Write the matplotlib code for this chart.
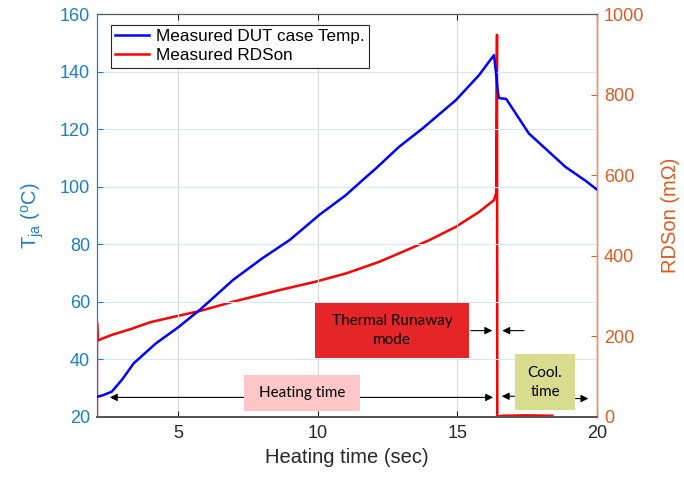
import matplotlib

matplotlib.use("Agg")
import matplotlib.pyplot as plt  # noqa: E402
from matplotlib.patches import Rectangle  # noqa: E402

plt.rcParams["font.family"] = ["Liberation Sans", "DejaVu Sans"]

# measured case temperature (left axis, degC)
temp_x = [2.1, 2.3, 2.63, 3.0, 3.41, 4.2, 5.0, 5.78, 6.97, 8.0, 9.0, 10.07,
          11.0, 11.61, 12.09, 12.92, 13.75, 14.95, 15.78, 16.31, 16.38, 16.45,
          16.49, 16.75, 17.56, 18.87, 19.6, 20.0]
temp_y = [27, 27.5, 28.8, 33, 38.6, 45.5, 51.1, 57.2, 67.6, 75, 81.5, 90.3,
          97, 102.3, 106.4, 113.9, 120.2, 130.1, 138.8, 145.7, 140, 133,
          130.8, 130.5, 118.5, 106.9, 102, 99]

# measured RDSon (right axis, mOhm)
rds_x = [2.1, 2.1, 2.13, 2.6, 3.3, 4.0, 5.0, 5.78, 6.97, 8.64, 9.94, 11.05,
         12.2, 13.05, 14.0, 14.95, 15.78, 16.31, 16.39, 16.42, 16.43, 16.6,
         17.5, 18.4]
rds_y = [0, 235, 190, 203, 218, 235, 251, 263, 286, 315, 336, 357,
         385, 410, 439, 472, 509, 538, 555, 948, 0, 3, 4, 3]

x_ticks = [5, 10, 15, 20]
temp_ticks = [20, 40, 60, 80, 100, 120, 140, 160]
rds_ticks = [0, 200, 400, 600, 800, 1000]

BLUE_AX = "#1a7fc4"
ORANGE_AX = "#dd5a22"
DARK = "#262626"


def arrow(ax, tail, head):
    ax.annotate("", xy=head, xytext=tail, xycoords=ax.transData,
                arrowprops=dict(arrowstyle="-|>", color="black", lw=0.8,
                                mutation_scale=11, shrinkA=0, shrinkB=0))


def label_box(ax, x0, x1, y0, y1, color, text):
    ax.add_patch(Rectangle((x0, y0), x1 - x0, y1 - y0, facecolor=color,
                           edgecolor="none", zorder=5))
    ax.text((x0 + x1) / 2, (y0 + y1) / 2, text, ha="center", va="center",
            fontsize=11, family=["Lato", "DejaVu Sans"], color="black",
            linespacing=1.45, zorder=6)


fig = plt.figure(figsize=(6.84, 4.8), dpi=100)
ax1 = fig.add_axes([0.1418, 0.1313, 0.731, 0.8395])
ax2 = ax1.twinx()
ax1.set_zorder(ax2.get_zorder() + 1)
ax1.patch.set_visible(False)

l1, = ax1.plot(temp_x, temp_y, color="#0000ff", lw=1.8, zorder=3)
l2, = ax2.plot(rds_x, rds_y, color="#ff0000", lw=1.8)

ax1.set_xlim(2.1, 20)
ax1.set_ylim(20, 160)
ax2.set_ylim(0, 1000)
ax1.set_xticks(x_ticks)
ax1.set_yticks(temp_ticks)
ax2.set_yticks(rds_ticks)

ax1.grid(axis="x", color="#dadada", lw=0.8, zorder=0)
ax1.grid(axis="y", color="#d6e8f5", lw=0.8, zorder=0)

ax1.tick_params(axis="x", direction="in", top=True, length=4, width=0.8,
                color=DARK, labelcolor=DARK, labelsize=13, pad=6)
ax1.tick_params(axis="y", direction="in", length=4, width=0.8,
                color=BLUE_AX, labelcolor=BLUE_AX, labelsize=13, pad=5)
ax2.tick_params(axis="y", direction="in", length=4, width=0.8,
                color=ORANGE_AX, labelcolor=ORANGE_AX, labelsize=13, pad=5)

for ax in (ax1, ax2):
    ax.spines["top"].set_color("#555555")
    ax.spines["top"].set_linewidth(0.8)
    ax.spines["bottom"].set_color("#555555")
    ax.spines["bottom"].set_linewidth(1.3)
    ax.spines["left"].set_color(BLUE_AX)
    ax.spines["left"].set_linewidth(0.8)
    ax.spines["right"].set_color("#eb8d68")
    ax.spines["right"].set_linewidth(1.0)

ax1.set_xlabel("Heating time (sec)", fontsize=14.5, color=DARK, labelpad=4)
ax1.set_ylabel(r"T$_{\mathregular{ja}}$ ($^{\mathregular{o}}$C)", fontsize=14.5,
               color=BLUE_AX, labelpad=10)
ax2.set_ylabel("RDSon (m\u03a9)", fontsize=14.5, color=ORANGE_AX, labelpad=12)

# annotation boxes and arrows
label_box(ax1, 9.92, 15.42, 40.6, 59.5, "#e52528", "Thermal Runaway\nmode")
label_box(ax1, 7.36, 11.51, 22.2, 34.6, "#ffc6c8", "Heating time")
label_box(ax1, 17.05, 19.23, 22.4, 41.8, "#d8dc8e", "Cool.\ntime")

arrow(ax1, (15.48, 50), (16.25, 50))
arrow(ax1, (17.39, 50), (16.61, 50))
arrow(ax1, (7.36, 26.8), (2.56, 26.8))
arrow(ax1, (11.51, 26.8), (16.28, 26.8))
arrow(ax1, (17.05, 27.2), (16.59, 27.2))
arrow(ax1, (19.23, 26.4), (19.69, 26.4))

leg = ax1.legend([l1, l2], ["Measured DUT case Temp.", "Measured RDSon"],
                 loc="upper left", bbox_to_anchor=(0.028, 0.973),
                 borderaxespad=0, fontsize=12.3, handlelength=2.0,
                 handletextpad=0.4, labelspacing=0.25, borderpad=0.25,
                 fancybox=False, framealpha=1, edgecolor=DARK)
leg.get_frame().set_linewidth(0.8)
leg.set_zorder(10)

fig.savefig("out.png", dpi=100)
